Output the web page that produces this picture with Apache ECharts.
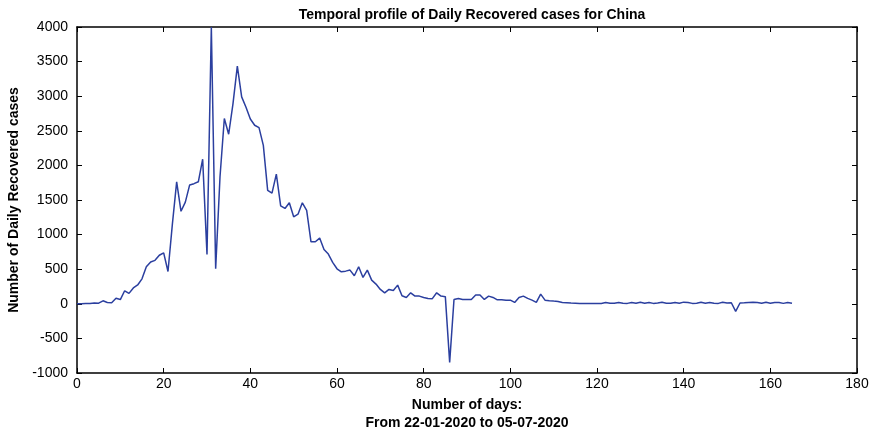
<!DOCTYPE html>
<html>
<head>
<meta charset="utf-8">
<title>Daily Recovered cases - China</title>
<script src="https://cdn.jsdelivr.net/npm/echarts@6/dist/echarts.min.js"></script>
<style>
  html, body { margin: 0; padding: 0; background: #fff; }
  #chart { width: 878px; height: 432px; }
</style>
</head>
<body>
<div id="chart"></div>
<script>
// Daily recovered cases in China, one value per day starting 22-01-2020 (day 0)
const recovered = [
  0, 2, 6, 3, 10, 9, 43, 19, 15, 79,
  61, 188, 151, 229, 272, 361, 535, 605, 628, 702,
  737, 467, 1145, 1763, 1337, 1470, 1718, 1736, 1763, 2090,
  713, 3996, 508, 1833, 2678, 2450, 2893, 3434, 2990, 2840,
  2670, 2580, 2545, 2290, 1640, 1600, 1874, 1416, 1378, 1460,
  1257, 1295, 1460, 1350, 896, 896, 950, 786, 718, 598,
  506, 462, 472, 487, 405, 535, 381, 487, 342, 285,
  208, 159, 208, 193, 270, 116, 92, 159, 111, 111,
  92, 78, 74, 159, 111, 103, -847, 63, 78, 63,
  63, 63, 126, 126, 63, 111, 92, 58, 58, 53,
  53, 20, 92, 111, 78, 53, 20, 140, 53, 45,
  39, 34, 20, 16, 12, 9, 6, 5, 5, 4,
  6, 5, 18, 8, 7, 20, 9, 6, 19, 8,
  21, 7, 18, 6, 10, 22, 8, 7, 20, 9,
  24, 18, 6, 8, 21, 7, 19, 9, 6, 22,
  10, 15, -110, 12, 14, 20, 22, 19, 8, 21,
  9, 20, 18, 6, 19, 8
];

const xTicks = { min: 0, max: 180, step: 20 };
const yTicks = { min: -1000, max: 4000, step: 500 };

const chartTitle = 'Temporal profile of Daily Recovered cases for China';
const xName = 'Number of days:\nFrom 22-01-2020 to 05-07-2020';
const yName = 'Number of Daily Recovered cases';

const FONT = 'Liberation Sans, Arial, sans-serif';
const INK = '#000';

const points = recovered.map((v, day) => [day, v]);

const chart = echarts.init(document.getElementById('chart'), null, { renderer: 'canvas' });

// plain integer tick labels, no thousands separator
const plain = v => String(v);

const frameAxis = {
  axisLine: { show: true, onZero: false, lineStyle: { color: INK, width: 1.5 } },
  axisTick: { show: true, inside: true, length: 5, lineStyle: { color: INK, width: 1 } },
  splitLine: { show: false }
};

chart.setOption({
  animation: false,
  backgroundColor: '#fff',
  title: {
    text: chartTitle,
    left: 467, top: 3, textAlign: 'center',
    textStyle: { fontFamily: FONT, fontSize: 14, fontWeight: 'bold', color: INK }
  },
  grid: { left: 77, right: 21, top: 27, bottom: 59, containLabel: false, outerBoundsMode: 'none' },
  xAxis: [
    Object.assign({}, frameAxis, {
      type: 'value', position: 'bottom',
      min: xTicks.min, max: xTicks.max, interval: xTicks.step,
      name: xName, nameLocation: 'middle', nameGap: 22,
      nameTextStyle: { fontFamily: FONT, fontSize: 14, fontWeight: 'bold', color: INK, lineHeight: 18 },
      axisLabel: { fontFamily: FONT, fontSize: 14, color: INK, margin: 4, formatter: plain }
    }),
    Object.assign({}, frameAxis, {
      type: 'value', position: 'top',
      min: xTicks.min, max: xTicks.max, interval: xTicks.step,
      axisLabel: { show: false }
    })
  ],
  yAxis: [
    Object.assign({}, frameAxis, {
      type: 'value', position: 'left',
      min: yTicks.min, max: yTicks.max, interval: yTicks.step,
      name: yName, nameLocation: 'middle', nameGap: 56, nameRotate: 90,
      nameTextStyle: { fontFamily: FONT, fontSize: 14, fontWeight: 'bold', color: INK },
      axisLabel: { fontFamily: FONT, fontSize: 14, color: INK, margin: 9, formatter: plain }
    }),
    Object.assign({}, frameAxis, {
      type: 'value', position: 'right',
      min: yTicks.min, max: yTicks.max, interval: yTicks.step,
      axisLabel: { show: false }
    })
  ],
  series: [{
    type: 'line',
    data: points,
    xAxisIndex: 0, yAxisIndex: 0,
    showSymbol: false,
    clip: true,
    lineStyle: { color: '#2B3F9F', width: 1.5 },
    itemStyle: { color: '#2B3F9F' }
  }]
});
</script>
</body>
</html>
